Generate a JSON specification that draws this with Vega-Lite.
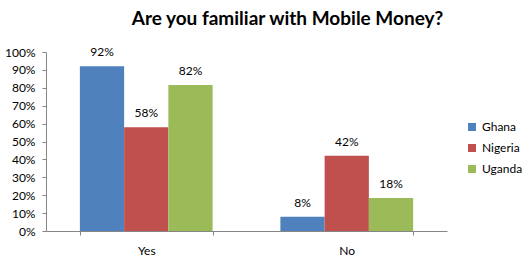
{
  "$schema": "https://vega.github.io/schema/vega-lite/v6.json",
  "autosize": "none",
  "width": 401,
  "height": 179,
  "padding": {"left": 46, "top": 52, "right": 83, "bottom": 29},
  "background": "white",
  "title": {
    "text": "Are you familiar with Mobile Money?",
    "font": "Lato",
    "fontSize": 19,
    "fontWeight": "bold",
    "color": "#000000",
    "anchor": "middle",
    "dx": 41,
    "offset": 17
  },
  "config": {
    "view": {"stroke": null},
    "font": "Lato"
  },
  "data": {
    "values": [
      {"answer": "Yes", "country": "Ghana", "value": 0.92},
      {"answer": "Yes", "country": "Nigeria", "value": 0.58},
      {"answer": "Yes", "country": "Uganda", "value": 0.816},
      {"answer": "No", "country": "Ghana", "value": 0.08},
      {"answer": "No", "country": "Nigeria", "value": 0.42},
      {"answer": "No", "country": "Uganda", "value": 0.184}
    ]
  },
  "encoding": {
    "x": {
      "field": "answer",
      "type": "nominal",
      "sort": ["Yes", "No"],
      "scale": {"paddingInner": 0.338, "paddingOuter": 0.169},
      "axis": {
        "title": null,
        "labelAngle": 0,
        "labelFont": "Lato",
        "labelFontSize": 12,
        "labelColor": "#000000",
        "labelPadding": 10,
        "domainColor": "#868686",
        "tickColor": "#868686",
        "tickSize": 4,
        "tickBand": "extent",
        "grid": false
      }
    },
    "xOffset": {"field": "country", "type": "nominal", "sort": ["Ghana", "Nigeria", "Uganda"]},
    "y": {
      "field": "value",
      "type": "quantitative",
      "scale": {"domain": [0, 1], "nice": false},
      "axis": {
        "title": null,
        "format": ".0%",
        "values": [0, 0.1, 0.2, 0.3, 0.4, 0.5, 0.6, 0.7, 0.8, 0.9, 1],
        "labelFont": "Lato",
        "labelFontSize": 12,
        "labelColor": "#000000",
        "labelPadding": 7,
        "domainColor": "#868686",
        "tickColor": "#868686",
        "tickSize": 4,
        "grid": false
      }
    }
  },
  "layer": [
    {
      "mark": {"type": "bar"},
      "encoding": {
        "color": {
          "field": "country",
          "type": "nominal",
          "sort": ["Ghana", "Nigeria", "Uganda"],
          "scale": {"domain": ["Ghana", "Nigeria", "Uganda"], "range": ["#4F81BD", "#C0504D", "#9BBB59"]},
          "legend": {
            "title": null,
            "orient": "none",
            "legendX": 420,
            "legendY": 69,
            "symbolType": "square",
            "symbolSize": 64,
            "symbolStrokeWidth": 0,
            "labelFont": "Lato",
            "labelFontSize": 12,
            "labelColor": "#000000",
            "labelOffset": 4,
            "rowPadding": 9
          }
        }
      }
    },
    {
      "mark": {"type": "text", "baseline": "bottom", "dy": -7, "font": "Lato", "fontSize": 12, "color": "#000000"},
      "encoding": {
        "text": {"field": "value", "type": "quantitative", "format": ".0%"}
      }
    }
  ]
}
